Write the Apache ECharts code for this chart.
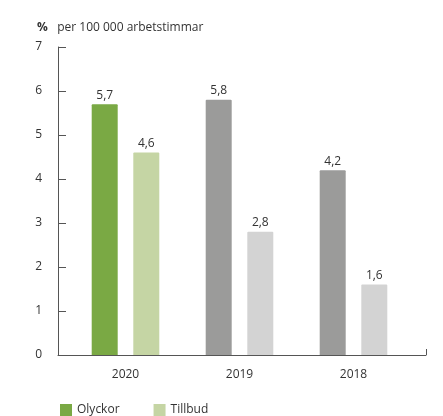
<!DOCTYPE html>
<html>
<head>
<meta charset="utf-8">
<script src="https://cdn.jsdelivr.net/npm/echarts@6/dist/echarts.min.js"></script>
<style>
  html, body { margin: 0; padding: 0; background: #fff; }
  #main { width: 443px; height: 416px; }
</style>
</head>
<body>
<div id="main"></div>
<script>
// data
const years = ['2020', '2019', '2018'];
const olyckor = [5.7, 5.8, 4.2];
const tillbud = [4.6, 2.8, 1.6];
const seriesNames = ['Olyckor', 'Tillbud'];

const font = "'Open Sans', sans-serif";
const green = ['#7aa944', '#c5d5a4'];
const grey = ['#9b9b9a', '#d3d3d3'];

function colored(values, idx) {
  return values.map((v, i) => ({
    value: v,
    itemStyle: { color: i === 0 ? green[idx] : grey[idx] }
  }));
}

const chart = echarts.init(document.getElementById('main'));
chart.setOption({
  animation: false,
  textStyle: { fontFamily: font },
  title: {
    left: 32,
    top: 14,
    text: '{b|%}  {n|per 100 000 arbetstimmar}',
    textStyle: {
      fontWeight: 'normal',
      rich: {
        b: { fontFamily: font, fontWeight: 'bold', fontSize: 12, color: '#333' },
        n: { fontFamily: font, fontWeight: 'normal', fontSize: 12, color: '#333' }
      }
    }
  },
  legend: {
    data: seriesNames,
    left: 55,
    bottom: -5,
    itemWidth: 12,
    itemHeight: 12,
    itemGap: 34,
    icon: 'rect',
    textStyle: { fontFamily: font, fontSize: 12, color: '#333' }
  },
  grid: [
    { left: 58, right: 17, top: 47, bottom: 61 },
    { left: 68.5, right: 32.5, top: 47, bottom: 61 }
  ],
  xAxis: [
    {
      gridIndex: 0,
      type: 'value',
      min: 0, max: 1, interval: 1,
      axisLine: { show: true, lineStyle: { color: '#555', width: 1 } },
      axisTick: { show: true, inside: true, length: 6, lineStyle: { color: '#555' } },
      axisLabel: { show: false },
      splitLine: { show: false }
    },
    {
      gridIndex: 1,
      type: 'category',
      data: years,
      axisLine: { show: false },
      axisTick: { show: false },
      axisLabel: { color: '#333', fontSize: 12, margin: 14, fontFamily: font }
    }
  ],
  yAxis: [
    {
      gridIndex: 0,
      type: 'value',
      min: 0, max: 7, interval: 1,
      axisLine: { show: true, lineStyle: { color: '#555', width: 1 } },
      axisTick: { show: true, inside: true, length: 8, lineStyle: { color: '#555' } },
      axisLabel: { color: '#333', fontSize: 12, margin: 16, fontFamily: font },
      splitLine: { show: false }
    },
    {
      gridIndex: 1,
      type: 'value',
      min: 0, max: 7, interval: 1,
      show: false
    }
  ],
  color: green,
  series: [
    {
      name: seriesNames[0],
      type: 'bar',
      xAxisIndex: 1,
      yAxisIndex: 1,
      barWidth: 26,
      barGap: '60%',
      itemStyle: { borderRadius: [1, 1, 0, 0] },
      data: colored(olyckor, 0),
      label: {
        show: true, position: 'top', distance: 3,
        color: '#333', fontSize: 12, fontFamily: font,
        formatter: p => String(p.value).replace('.', ',')
      }
    },
    {
      name: seriesNames[1],
      type: 'bar',
      xAxisIndex: 1,
      yAxisIndex: 1,
      barWidth: 26,
      itemStyle: { borderRadius: [1, 1, 0, 0] },
      data: colored(tillbud, 1),
      label: {
        show: true, position: 'top', distance: 3,
        color: '#333', fontSize: 12, fontFamily: font,
        formatter: p => String(p.value).replace('.', ',')
      }
    }
  ]
});
</script>
</body>
</html>
